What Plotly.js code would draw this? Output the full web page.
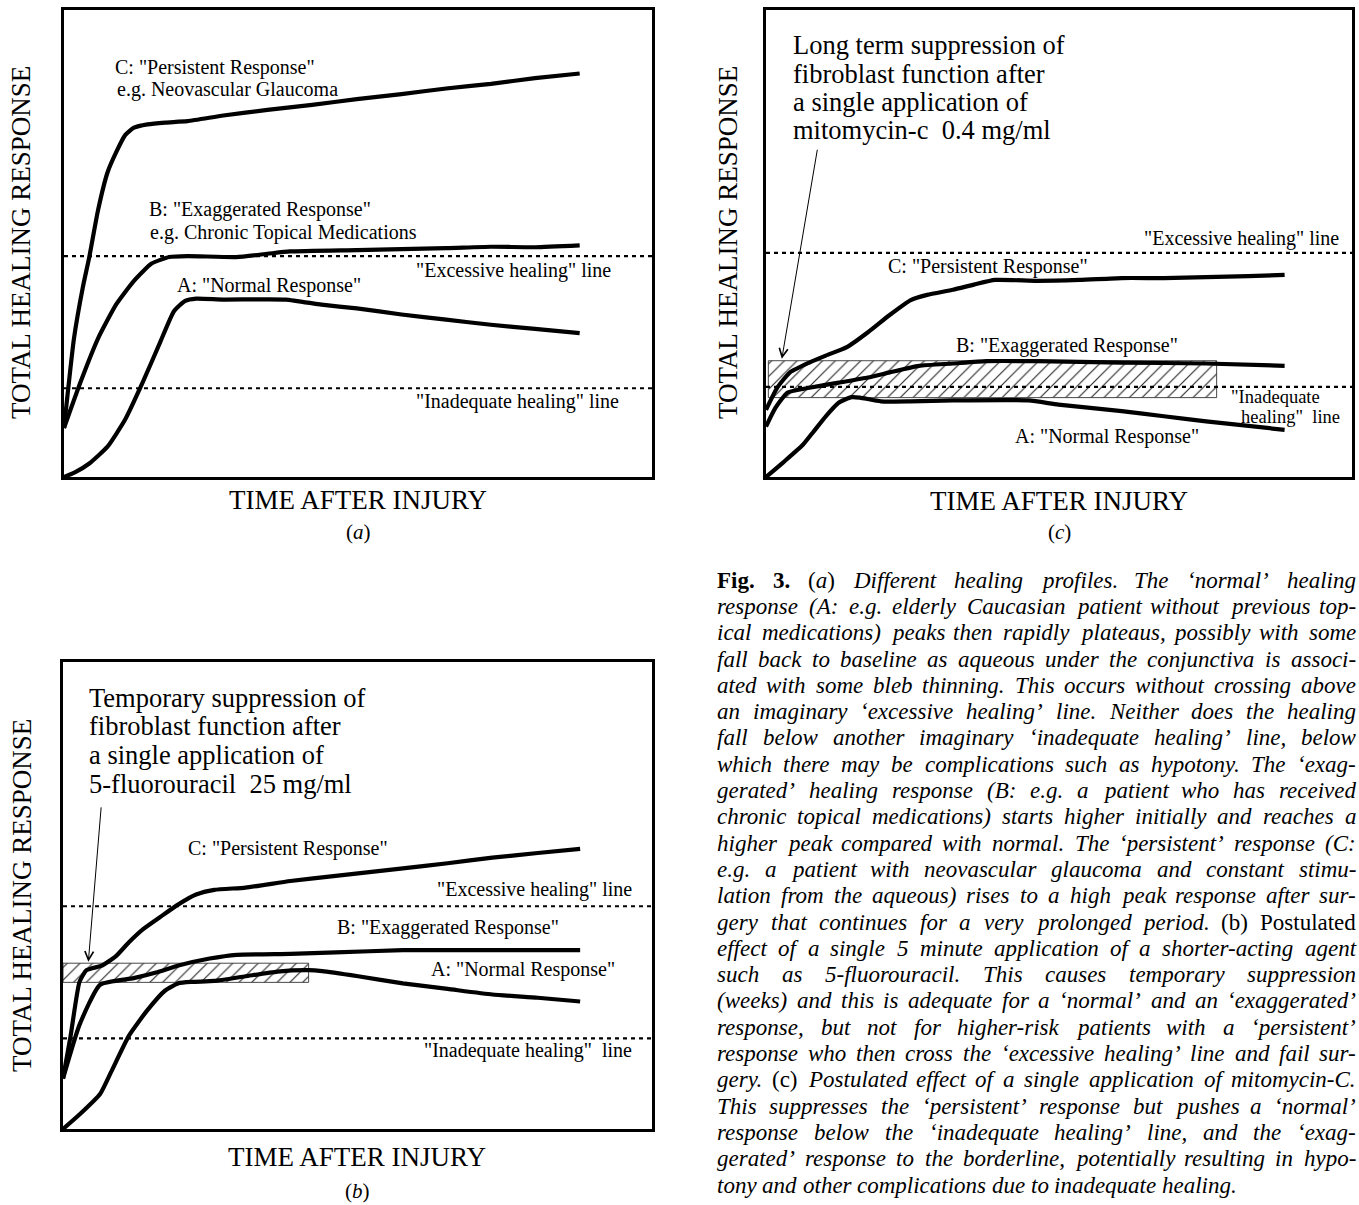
<!DOCTYPE html>
<html><head><meta charset="utf-8">
<script src="https://cdn.plot.ly/plotly-3.0.1.min.js"></script>
<style>html,body{margin:0;padding:0;background:#fff}#chart{width:1359px;height:1205px}</style>
</head><body><div id="chart"></div>
<script>
// ---------------- DATA (percent of each panel's box) ----------------
// Panel (a): different healing profiles
const a_normal_x = [0,2.0,4.3,7.4,10.4,13.4,16.4,18.7,20.6,22.5,27.1,37.7,43.8,49.8,57.4,65.0,72.6,80.1,87.7];
const a_normal_y = [0,1.1,2.9,6.5,12.3,20.3,29.0,35.5,37.7,38.2,38.0,38.0,36.9,36.1,34.8,33.7,32.6,31.7,30.8];
const a_exag_x = [0,2.8,5.8,8.9,11.9,14.9,17.9,21.0,29.3,34.6,38.4,49.8,65.0,72.6,80.1,87.7];
const a_exag_y = [10.5,20.3,29.7,37.0,42.0,45.7,47.1,47.3,47.1,47.8,48.3,48.6,49.0,49.3,49.2,49.6];
const a_pers_x = [0,1.7,3.2,4.3,5.8,7.4,8.9,10.4,11.9,14.2,17.2,21.0,27.1,34.6,42.2,49.8,57.4,65.0,72.6,80.1,87.7];
const a_pers_y = [10.5,29.7,40.6,47.1,57.2,65.2,69.6,73.2,74.8,75.5,75.9,76.2,77.4,78.6,79.7,80.9,82.0,83.2,84.2,85.4,86.4];
const a_excessive = 47.3, a_inadequate = 19.0;

// Panel (c): mitomycin-C
const c_normal_x = [0,3.0,6.3,8.1,10.2,12.4,14.6,16.0,19.6,24.7,31.9,44.8,49.9,60.7,67.9,75.1,88.5];
const c_normal_y = [0,3.2,6.9,9.7,13.0,15.9,17.1,17.0,16.2,16.2,16.4,16.4,15.5,14.1,13.0,11.9,10.1];
const c_exag_x = [0,1.6,3.7,7.4,12.4,17.4,21.1,26.1,31.9,37.6,46.3,60.7,75.1,88.5];
const c_exag_y = [10.8,14.8,18.1,19.1,20.2,21.3,22.4,23.8,24.3,24.8,24.8,24.5,24.3,23.8];
const c_pers_x = [0,1.9,4.1,7.4,10.2,13.8,17.4,21.1,24.7,27.5,31.9,35.5,39.1,46.3,53.5,60.7,67.9,75.1,82.3,88.5];
const c_pers_y = [14.4,19.1,22.4,24.5,26.0,27.8,31.0,34.7,37.9,39.0,40.1,41.2,42.2,42.0,42.2,42.6,42.6,42.8,43.0,43.3];
const c_excessive = 48.0, c_inadequate = 19.3;
const c_suppr_x = [0.4,76.9], c_suppr_y = [17.0,24.9];
const c_arrow = {tail:[8.8,70.4], head:[2.7,25.3]};

// Panel (b): 5-fluorouracil
const b_normal_x = [0,2.8,6.3,8.2,11.2,14.3,17.3,19.6,21.9,25.7,31.0,36.4,41.7,44.0,50.1,57.7,65.3,72.9,80.6,87.8];
const b_normal_y = [0,3.1,7.5,12.3,20.0,25.4,29.6,31.2,31.5,31.7,32.7,33.7,34.0,33.8,32.7,31.2,30.0,28.8,28.1,27.3];
const b_exag_x = [0,2.8,6.3,12.0,15.8,19.6,24.9,29.5,38.6,46.3,57.7,65.3,72.9,87.8];
const b_exag_y = [10.8,22.3,30.9,32.3,33.5,35.0,36.5,37.3,37.5,37.8,38.3,38.3,38.3,38.3];
const b_pers_x = [0,1.3,2.8,4.0,6.6,8.9,11.2,13.5,16.5,19.6,22.6,25.7,31.0,38.6,46.3,57.7,65.3,72.9,80.6,87.8];
const b_pers_y = [10.8,20.0,31.5,34.0,35.0,36.9,40.0,42.7,45.4,48.1,50.2,51.2,51.7,53.1,54.2,55.8,56.9,58.1,59.1,60.0];
const b_excessive = 47.7, b_inadequate = 19.4;
const b_suppr_x = [0,41.7], b_suppr_y = [31.4,35.5];
const b_arrow = {tail:[6.5,69.2], head:[4.3,35.8]};

const yTitle = 'TOTAL HEALING RESPONSE';
const xTitle = 'TIME AFTER INJURY';

const captionLines = [
 "*Fig. 3.* ^(^a^)^ Different healing profiles. The ‘normal’ healing",
 "response (A: e.g. elderly Caucasian patient without previous top-",
 "ical medications) peaks then rapidly plateaus, possibly with some",
 "fall back to baseline as aqueous under the conjunctiva is associ-",
 "ated with some bleb thinning. This occurs without crossing above",
 "an imaginary ‘excessive healing’ line. Neither does the healing",
 "fall below another imaginary ‘inadequate healing’ line, below",
 "which there may be complications such as hypotony. The ‘exag-",
 "gerated’ healing response (B: e.g. a patient who has received",
 "chronic topical medications) starts higher initially and reaches a",
 "higher peak compared with normal. The ‘persistent’ response (C:",
 "e.g. a patient with neovascular glaucoma and constant stimu-",
 "lation from the aqueous) rises to a high peak response after sur-",
 "gery that continues for a very prolonged period. ^(b) Postulated^",
 "effect of a single 5 minute application of a shorter-acting agent",
 "such as 5-fluorouracil. This causes temporary suppression",
 "(weeks) and this is adequate for a ‘normal’ and an ‘exaggerated’",
 "response, but not for higher-risk patients with a ‘persistent’",
 "response who then cross the ‘excessive healing’ line and fail sur-",
 "gery. ^(c)^ Postulated effect of a single application of mitomycin-C.",
 "This suppresses the ‘persistent’ response but pushes a ‘normal’",
 "response below the ‘inadequate healing’ line, and the ‘exag-",
 "gerated’ response to the borderline, potentially resulting in hypo-",
 "tony and other complications due to inadequate healing."
];

// ---------------- LAYOUT HELPERS ----------------
const W = 1359, H = 1205;
const FONT = 'Liberation Serif, Times New Roman, serif';
const px = p => p / W, py = p => 1 - p / H;

const boxes = {
  a: {x0:64, x1:652, y0:10, y1:477, xa:'x', ya:'y'},
  c: {x0:766, x1:1352, y0:10, y1:477, xa:'x2', ya:'y2'},
  b: {x0:63, x1:652, y0:662, y1:1129, xa:'x3', ya:'y3'}
};

const traces = [];
function curve(p, xs, ys) {
  traces.push({type:'scatter', mode:'lines', x:xs, y:ys, xaxis:p.xa, yaxis:p.ya,
    line:{color:'black', width:4.2, shape:'spline', smoothing:0.5}, hoverinfo:'skip', showlegend:false});
}
function threshold(p, level) {
  traces.push({type:'scatter', mode:'lines', x:[0,100], y:[level,level], xaxis:p.xa, yaxis:p.ya,
    line:{color:'black', width:2.2, dash:'4px,4px'}, hoverinfo:'skip', showlegend:false});
}
function hatch(p, xs, ys) {
  traces.push({type:'scatter', mode:'lines', x:[xs[0],xs[1],xs[1],xs[0],xs[0]], y:[ys[0],ys[0],ys[1],ys[1],ys[0]],
    xaxis:p.xa, yaxis:p.ya, fill:'toself', fillcolor:'rgba(0,0,0,0)',
    fillpattern:{shape:'/', size:9, solidity:0.12, fgcolor:'#222', bgcolor:'rgba(0,0,0,0)'},
    line:{color:'#333', width:0.9}, hoverinfo:'skip', showlegend:false});
}

const B = boxes;
hatch(B.c, c_suppr_x, c_suppr_y);
hatch(B.b, b_suppr_x, b_suppr_y);
[[B.a,a_excessive],[B.a,a_inadequate],[B.c,c_excessive],[B.c,c_inadequate],[B.b,b_excessive],[B.b,b_inadequate]]
  .forEach(([p,l]) => threshold(p,l));
curve(B.a, a_normal_x, a_normal_y); curve(B.a, a_exag_x, a_exag_y); curve(B.a, a_pers_x, a_pers_y);
curve(B.c, c_normal_x, c_normal_y); curve(B.c, c_exag_x, c_exag_y); curve(B.c, c_pers_x, c_pers_y);
curve(B.b, b_normal_x, b_normal_y); curve(B.b, b_exag_x, b_exag_y); curve(B.b, b_pers_x, b_pers_y);

const ann = [];
function lab(p, x, y, text, size) {
  ann.push({xref:p.xa, yref:p.ya, x:x, y:y, text:text, showarrow:false, xanchor:'left', yanchor:'middle',
    borderpad:0, font:{family:FONT, size:size||20, color:'black'}});
}
// panel (a) labels
lab(B.a, 8.5, 87.7, 'C: "Persistent Response"');
lab(B.a, 8.9, 82.9, 'e.g. Neovascular Glaucoma');
lab(B.a, 14.2, 57.2, 'B: "Exaggerated Response"');
lab(B.a, 14.4, 52.4, 'e.g. Chronic Topical Medications');
lab(B.a, 19.1, 41.1, 'A: "Normal Response"');
lab(B.a, 59.7, 44.2, '"Excessive healing" line');
lab(B.a, 59.7, 16.1, '"Inadequate healing" line');
// panel (c) labels
['Long term suppression of','fibroblast function after','a single application of','mitomycin-c\u00a0\u00a00.4 mg/ml']
  .forEach((t,i) => lab(B.c, 4.5, [92.6,86.4,80.3,74.2][i], t, 26.5));
lab(B.c, 64.3, 51.0, '"Excessive healing" line');
lab(B.c, 20.7, 45.1, 'C: "Persistent Response"');
lab(B.c, 32.2, 28.2, 'B: "Exaggerated Response"');
lab(B.c, 79.1, 17.2, '"Inadequate', 18.5);
lab(B.c, 80.9, 12.8, 'healing"\u00a0\u00a0line', 18.5);
lab(B.c, 42.3, 8.7, 'A: "Normal Response"');
// panel (b) labels
['Temporary suppression of','fibroblast function after','a single application of','5-fluorouracil\u00a0\u00a025 mg/ml']
  .forEach((t,i) => lab(B.b, 4.3, [92.3,86.2,80.0,73.8][i], t, 26.5));
lab(B.b, 21.0, 60.0, 'C: "Persistent Response"');
lab(B.b, 63.4, 51.2, '"Excessive healing" line');
lab(B.b, 46.3, 43.1, 'B: "Exaggerated Response"');
lab(B.b, 62.3, 34.2, 'A: "Normal Response"');
lab(B.b, 61.1, 16.9, '"Inadequate healing"\u00a0\u00a0line');

// arrows
[[B.c,c_arrow],[B.b,b_arrow]].forEach(([p,a]) => ann.push({xref:p.xa, yref:p.ya, x:a.head[0], y:a.head[1],
  axref:p.xa, ayref:p.ya, ax:a.tail[0], ay:a.tail[1], text:'', showarrow:true, arrowhead:5, arrowsize:1.7,
  arrowwidth:1, arrowcolor:'black', standoff:0}));

// axis titles and panel letters (paper coordinates)
function ptext(xp, yp, text, size, angle) {
  ann.push({xref:'paper', yref:'paper', x:px(xp), y:py(yp), text:text, showarrow:false, xanchor:'center', yanchor:'middle',
    textangle:angle||0, borderpad:0, font:{family:FONT, size:size, color:'black'}});
}
ptext(21, 243, yTitle, 27, -90);
ptext(728, 243, yTitle, 27, -90);
ptext(22, 896, yTitle, 27, -90);
ptext(358, 500, xTitle, 27);
ptext(1059, 501, xTitle, 27);
ptext(357, 1157, xTitle, 27);
ptext(358, 532, '(<i>a</i>)', 21);
ptext(1059, 532, '(<i>c</i>)', 21);
ptext(357, 1191, '(<i>b</i>)', 21);

// ---------------- CAPTION (justified, word by word) ----------------
(function caption(){
  const left = 716, right = 1355, top = 588, lead = 26.3;
  const width = right - left;
  const meas = document.createElement('span');
  meas.style.cssText = 'position:absolute;left:-9999px;top:0;white-space:pre;font-family:"Liberation Serif";';
  document.body.appendChild(meas);
  function textW(t, s, fs) {
    meas.style.fontStyle = s==='i' ? 'italic' : 'normal';
    meas.style.fontWeight = s==='b' ? 'bold' : 'normal';
    meas.style.fontSize = fs + 'px';
    meas.textContent = t;
    return meas.getBoundingClientRect().width;
  }
  function parse(line){
    let mode='i', words=[], cur=[], buf='';
    const flush=()=>{ if(buf){cur.push({s:mode,t:buf}); buf='';} };
    for (const ch of line) {
      if (ch==='*'){ flush(); mode = mode==='b'?'i':'b'; continue; }
      if (ch==='^'){ flush(); mode = mode==='u'?'i':'u'; continue; }
      if (ch===' '){ flush(); if(cur.length){words.push({p:cur}); cur=[];} continue; }
      buf += ch;
    }
    flush(); if (cur.length) words.push({p:cur});
    return words;
  }
  const measure = (w, fs) => w.p.reduce((s,q)=>s+textW(q.t,q.s,fs),0);
  const lines = captionLines.map(parse);
  const fs0 = 20;
  const sp0 = textW(' ', 'i', fs0);
  let maxW = 0;
  lines.slice(0,-1).forEach(ws => {
    const w = ws.reduce((s,w)=>s+measure(w,fs0),0) + sp0*(ws.length-1);
    maxW = Math.max(maxW, w);
  });
  const fs = Math.max(19, Math.min(23, fs0 * width / maxW * 0.998));
  const sp = textW(' ', 'i', fs);
  const esc = t => t.replace(/&/g,'&amp;').replace(/</g,'&lt;');
  lines.forEach((ws, k) => {
    const widths = ws.map(w => measure(w, fs));
    const total = widths.reduce((a,b)=>a+b,0);
    const last = k === lines.length-1;
    const gap = last ? sp : (width - total)/(ws.length-1);
    const base = top + k*lead;
    let xpos = left;
    ws.forEach((w, i) => {
      const txt = w.p.map(q => q.s==='i' ? '<i>'+esc(q.t)+'</i>' : q.s==='b' ? '<b>'+esc(q.t)+'</b>' : esc(q.t)).join('');
      ann.push({xref:'paper', yref:'paper', x:px(xpos), y:py(base - 0.34*fs), text:txt, showarrow:false,
        xanchor:'left', yanchor:'middle', borderpad:0, font:{family:FONT, size:fs, color:'black'}});
      xpos += widths[i] + gap;
    });
  });
  meas.remove();
})();

// ---------------- AXES ----------------
function axis(d) {
  return {domain:d, range:[0,100], showgrid:false, zeroline:false, showticklabels:false, ticks:'',
    showline:true, mirror:true, linecolor:'black', linewidth:3, fixedrange:true};
}
const layout = {
  width:W, height:H, margin:{l:0,r:0,t:0,b:0}, paper_bgcolor:'white', plot_bgcolor:'white', showlegend:false,
  xaxis: Object.assign(axis([px(B.a.x0), px(B.a.x1)]), {anchor:'y'}),
  yaxis: Object.assign(axis([py(B.a.y1), py(B.a.y0)]), {anchor:'x'}),
  xaxis2: Object.assign(axis([px(B.c.x0), px(B.c.x1)]), {anchor:'y2'}),
  yaxis2: Object.assign(axis([py(B.c.y1), py(B.c.y0)]), {anchor:'x2'}),
  xaxis3: Object.assign(axis([px(B.b.x0), px(B.b.x1)]), {anchor:'y3'}),
  yaxis3: Object.assign(axis([py(B.b.y1), py(B.b.y0)]), {anchor:'x3'}),
  annotations: ann
};
Plotly.newPlot('chart', traces, layout, {staticPlot:true, displayModeBar:false});
</script>
</body></html>
